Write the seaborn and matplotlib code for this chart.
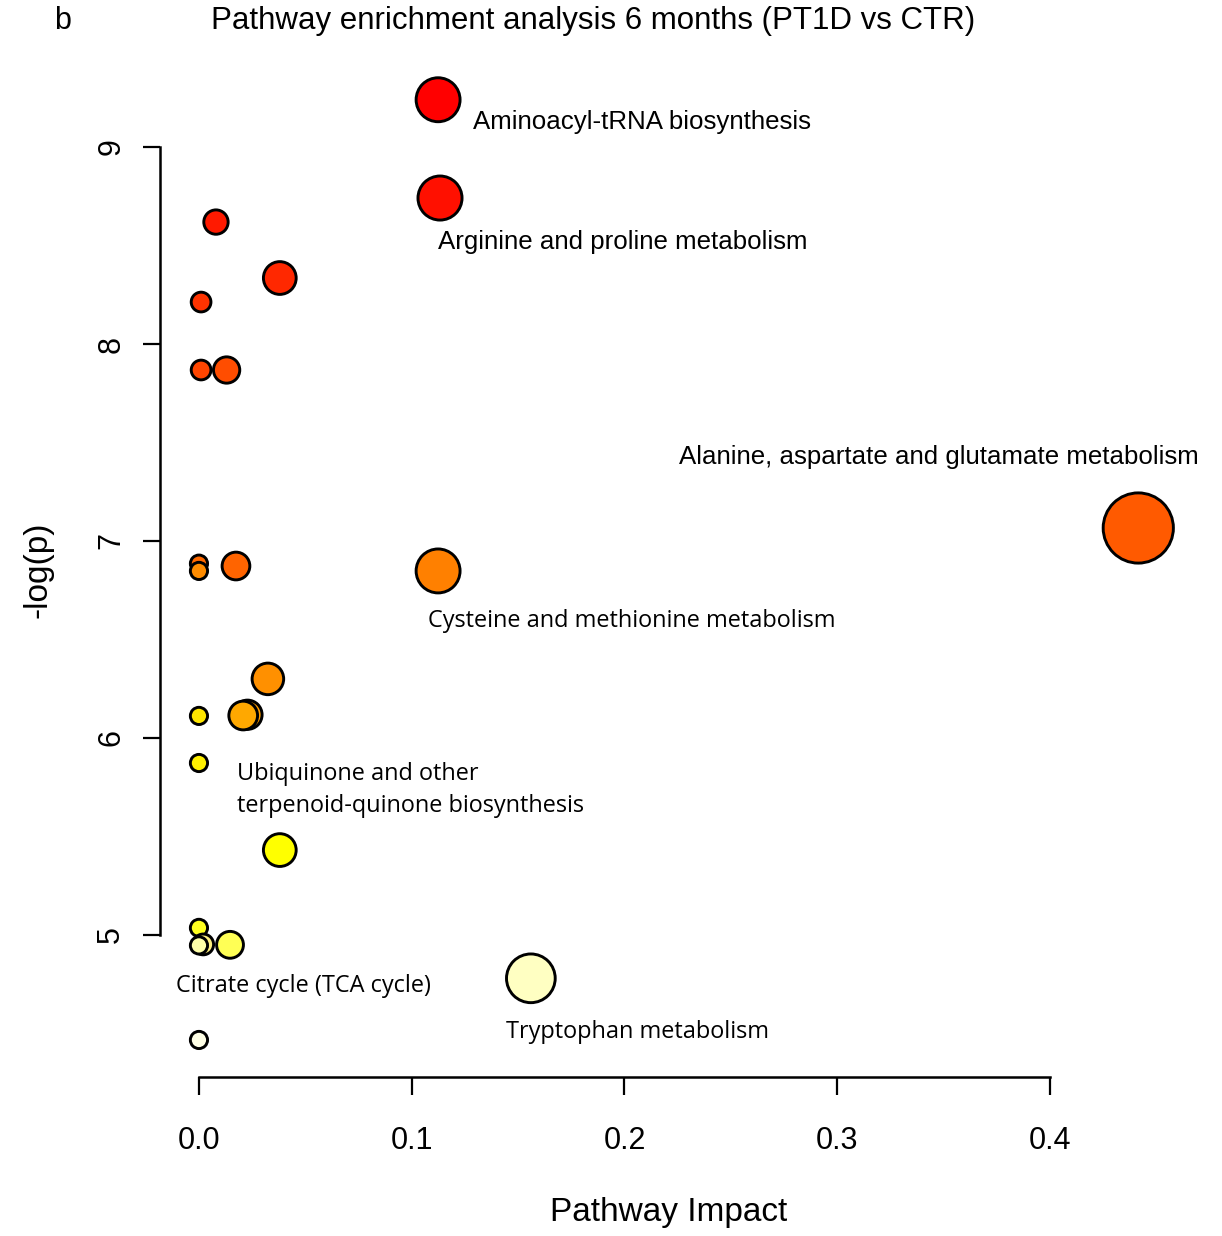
import numpy as np
import pandas as pd
import seaborn as sns
from matplotlib import pyplot as plt

# pathway impact (x) and -log(p) (y), ordered by -log(p) as in the plot
impact = [0.1124, 0.1133, 0.008, 0.038, 0.001, 0.001, 0.013, 0.4415,
          0.0174, 0.0, 0.0, 0.1124, 0.0324, 0.0228, 0.0208, 0.0,
          0.0, 0.038, 0.0, 0.0146, 0.002, 0.0, 0.156, 0.0]
logp = [9.24, 8.741, 8.619, 8.335, 8.213, 7.868, 7.868, 7.066,
        6.873, 6.885, 6.848, 6.848, 6.30, 6.118, 6.114, 6.112,
        5.873, 5.431, 5.036, 4.95, 4.952, 4.947, 4.78, 4.467]

# heat colours, one per rank
fills = ["#FF0000", "#FF1000", "#FF1A00", "#FF2800", "#FF3300", "#FF4500",
         "#FF4D00", "#FF5A00", "#FF6400", "#FF6A00", "#FF8C00", "#FF8000",
         "#FF9000", "#FF9E00", "#FFA800", "#FFE600", "#FFF000", "#FFFF00",
         "#FFFF20", "#FFFF55", "#FFF080", "#FFFFA8", "#FFFFC2", "#FFFFE6"]

# labelled pathways: (text, x, y, font)
labels = [
    ("Aminoacyl-tRNA biosynthesis", 0.1288, 9.127, "Liberation Sans"),
    ("Arginine and proline metabolism", 0.1123, 8.518, "Liberation Sans"),
    ("Alanine, aspartate and glutamate metabolism", 0.2256, 7.426, "Liberation Sans"),
    ("Cysteine and methionine metabolism", 0.1076, 6.594, "Open Sans"),
    ("Ubiquinone and other\nterpenoid-quinone biosynthesis", 0.0179, 5.736, "Open Sans"),
    ("Citrate cycle (TCA cycle)", -0.0108, 4.741, "Open Sans"),
    ("Tryptophan metabolism", 0.1443, 4.508, "Open Sans"),
]

sns.set_theme(style="white")
plt.rcParams["font.family"] = ["Liberation Sans", "DejaVu Sans"]
plt.rcParams["text.color"] = "black"
plt.rcParams["axes.labelcolor"] = "black"

df = pd.DataFrame({"impact": impact, "logp": logp})
df["pid"] = ["p%02d" % i for i in range(len(df))]

# bubble radius grows with sqrt(impact), like MetaboAnalyst does
sq = np.sqrt(df["impact"])
t = (sq - sq.min()) / (sq.max() - sq.min())
r_px = 8.6 + 26.5 * t
df["area"] = (2 * r_px * 72 / 100) ** 2

fig = plt.figure(figsize=(12.22, 12.36), dpi=100)
ax = fig.add_axes([0.1306, 0.12864, 0.8331, 0.8321])

sns.scatterplot(data=df, x="impact", y="logp", hue="pid",
                palette=dict(zip(df["pid"], fills)),
                size="area", sizes=(df["area"].min(), df["area"].max()),
                size_norm=(df["area"].min(), df["area"].max()),
                edgecolor="black", linewidth=2.1, legend=False,
                clip_on=False, ax=ax)

ax.set_xlim(-0.0185, 0.46)
ax.set_ylim(4.279, 9.5)

# R-like axes: only left and bottom, bounded to tick range
for side in ["top", "right"]:
    ax.spines[side].set_visible(False)
ax.spines["left"].set_bounds(5, 9)
ax.spines["bottom"].set_bounds(0, 0.4)
for side in ["left", "bottom"]:
    ax.spines[side].set_linewidth(1.8)
    ax.spines[side].set_color("black")

ax.set_xticks([0, 0.1, 0.2, 0.3, 0.4])
ax.set_xticklabels(["0.0", "0.1", "0.2", "0.3", "0.4"])
ax.set_yticks([5, 6, 7, 8, 9])
ax.tick_params(axis="x", direction="out", length=13, width=1.6,
               labelsize=22, pad=22, colors="black", bottom=True)
ax.tick_params(axis="y", direction="out", length=12, width=1.6,
               labelsize=22, pad=12, colors="black", left=True,
               labelrotation=90)
for lab in ax.get_yticklabels():
    lab.set_va("center")

ax.set_xlabel("Pathway Impact", fontsize=24, va="center")
ax.set_ylabel("-log(p)", fontsize=24, va="center", rotation=90)
ax.xaxis.set_label_coords(0.5003, -0.1322)
ax.yaxis.set_label_coords(-0.1194, 0.4929)

for text, x, y, font in labels:
    size = 18.6 if font == "Liberation Sans" else 16.9
    ax.text(x, y, text, fontsize=size, family=font, ha="left", va="center",
            linespacing=1.4, color="black")

fig.text(593 / 1222, 1 - 21 / 1236,
         "Pathway enrichment analysis 6 months (PT1D vs CTR)",
         fontsize=22.5, ha="center", va="center")
fig.text(63 / 1222, 1 - 21 / 1236, "b", fontsize=22, ha="center", va="center")

fig.savefig("out.png", dpi=100)
